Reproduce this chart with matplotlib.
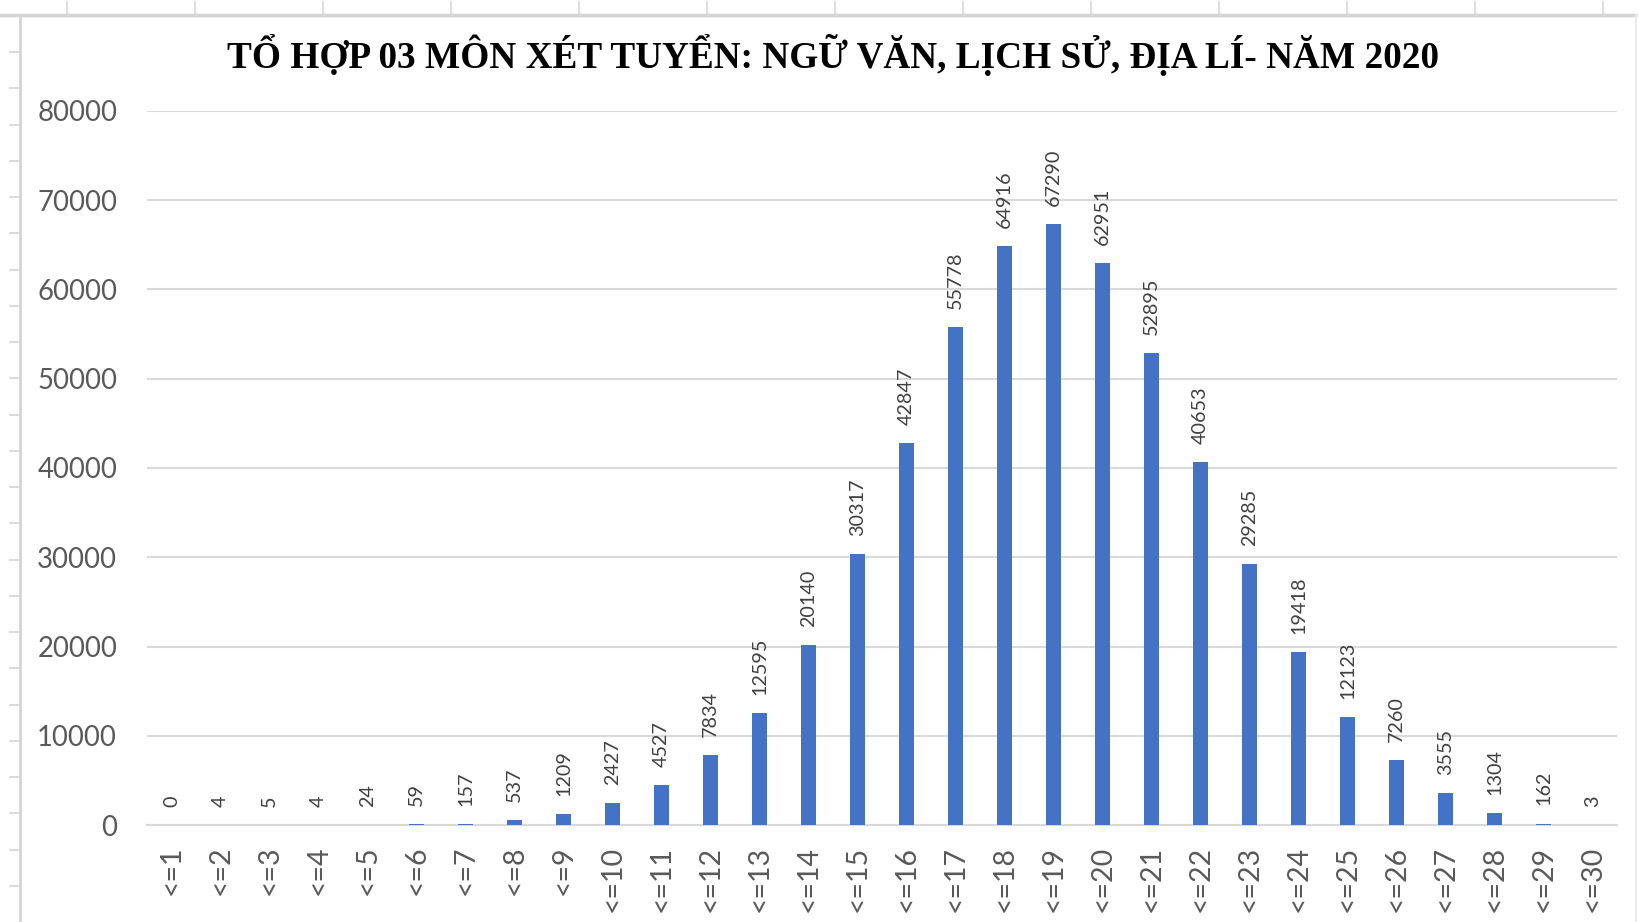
import numpy as np
import matplotlib
matplotlib.use("Agg")
import matplotlib.pyplot as plt
from matplotlib.lines import Line2D

categories = ["<=%d" % k for k in range(1, 31)]
so_luong = [0, 4, 5, 4, 24, 59, 157, 537, 1209, 2427,
            4527, 7834, 12595, 20140, 30317, 42847, 55778, 64916, 67290, 62951,
            52895, 40653, 29285, 19418, 12123, 7260, 3555, 1304, 162, 3]
y_ticks = [0, 10000, 20000, 30000, 40000, 50000, 60000, 70000, 80000]
title = "TỔ HỢP 03 MÔN XÉT TUYỂN: NGỮ VĂN, LỊCH SỬ, ĐỊA LÍ- NĂM 2020"

W, H = 1638, 922
fig = plt.figure(figsize=(W / 100, H / 100), dpi=100)
fig.patch.set_facecolor("white")

def fx(px):
    return px / W

def fy(py):
    return 1 - py / H

# khung bang tinh phia sau bieu do
grid_col = "#d4d4d4"
fig.add_artist(Line2D([fx(0), fx(W)], [fy(15), fy(15)], color=grid_col, lw=2.5))
fig.add_artist(Line2D([fx(20), fx(20)], [fy(15), fy(H)], color=grid_col, lw=2))
fig.add_artist(Line2D([fx(1636), fx(1636)], [fy(15), fy(H)], color="#ececec", lw=1.5))
for cx in range(67, W, 128):
    fig.add_artist(Line2D([fx(cx), fx(cx)], [fy(2), fy(15)], color=grid_col, lw=1.2))
for k in range(24):
    ry = 52 + 36.26 * k
    fig.add_artist(Line2D([fx(10), fx(20)], [fy(ry), fy(ry)], color=grid_col, lw=1.2))

ax = fig.add_axes([fx(147), fy(825), fx(1617) - fx(147), fy(111) - fy(825)])
x = np.arange(len(categories))
ax.bar(x, so_luong, width=0.31, color="#4472C4", zorder=3)

ax.set_xlim(-0.5, len(categories) - 0.5)
ax.set_ylim(0, 80000)
ax.set_yticks(y_ticks)
ax.set_yticklabels([str(t) for t in y_ticks])
ax.yaxis.grid(True, color="#d9d9d9", lw=1.5, zorder=0)
ax.set_xticks(x)
ax.set_xticklabels(categories, rotation=90)
ax.tick_params(axis="both", length=0, labelcolor="#595959")
ax.tick_params(axis="y", pad=21.5, labelsize=19.8)
ax.tick_params(axis="x", pad=15, labelsize=20.5)
for lab in ax.get_xticklabels() + ax.get_yticklabels():
    lab.set_fontfamily("Lato")
for s in ["top", "right", "left"]:
    ax.spines[s].set_visible(False)
ax.spines["bottom"].set_color("#d9d9d9")
ax.spines["bottom"].set_linewidth(1.5)

for xi, v in zip(x, so_luong):
    ax.annotate(str(v), (xi, v), xytext=(0, 13), textcoords="offset points",
                rotation=90, ha="center", va="bottom", fontsize=14.2,
                family="Lato", color="#404040", annotation_clip=False)

fig.text(fx(833), fy(55), title, ha="center", va="center",
         family="Liberation Serif", fontweight="bold", fontsize=26.8, color="black")

fig.savefig("out.png", dpi=100, facecolor="white")
